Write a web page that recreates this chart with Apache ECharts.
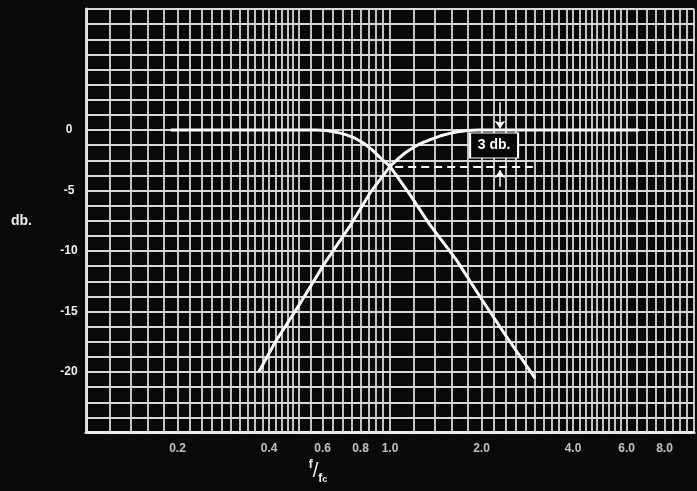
<!DOCTYPE html>
<html><head><meta charset="utf-8">
<script src="https://cdn.jsdelivr.net/npm/echarts@6/dist/echarts.min.js"></script>
<style>html,body{margin:0;padding:0;background:#080908;}#c{width:697px;height:491px;}</style>
</head><body><div id="c"></div>
<script>
// ---- data ----
const lowPassF  = [0.19, 0.30, 0.50, 0.57, 0.62, 0.67, 0.72, 0.77, 0.82, 0.87, 0.93, 1.00, 1.16, 1.35, 1.66, 1.98, 2.39, 3.0];
const lowPassDb = [0, 0, 0, 0, -0.05, -0.2, -0.4, -0.7, -1.1, -1.6, -2.3, -3.0, -5.3, -7.8, -10.8, -13.8, -16.9, -20.5];
const highPassF  = [0.37, 0.42, 0.51, 0.61, 0.74, 0.86, 1.00, 1.06, 1.12, 1.2, 1.28, 1.37, 1.46, 1.56, 1.67, 1.8, 1.95, 3.0, 6.6];
const highPassDb = [-20.0, -17.5, -14.2, -11.0, -7.9, -5.2, -3.0, -2.4, -1.9, -1.4, -1.05, -0.75, -0.5, -0.3, -0.15, -0.05, 0, 0, 0];
const xTickLabels = [0.2, 0.4, 0.6, 0.8, 1.0, 2.0, 4.0, 6.0, 8.0];
const yTickLabels = [0, -5, -10, -15, -20];
const crossoverDb = -3;
const annotationText = '3 db.';
// graph-paper rulings: [from, to, step]
const xRulings = [[0.1, 0.5, 0.02], [0.5, 1.0, 0.05], [1, 5, 0.2], [5, 6, 0.25], [6, 10, 0.5]];

const xGrid = [];
xRulings.forEach(([a, b, s]) => {
  const n = Math.round((b - a) / s);
  for (let i = 0; i <= n; i++) {
    const v = +(a + i * s).toFixed(4);
    if (!xGrid.includes(v)) xGrid.push(v);
  }
});

const FONT = 'Liberation Sans';
const W = '#ececec';

const chart = echarts.init(document.getElementById('c'));
chart.setOption({
  backgroundColor: '#080908',
  animation: false,
  grid: { left: 86, right: 3, top: 9, bottom: 58.5 },
  xAxis: {
    type: 'log', logBase: 10, min: 0.1, max: 10,
    axisLine: { show: true, onZero: false, lineStyle: { color: W, width: 3 } },
    axisTick: { show: false },
    axisLabel: { show: false },
    splitLine: { show: false },
    minorSplitLine: { show: false },
    name: '{n|f}{s|/}{d|f}{c|c}',
    nameLocation: 'middle',
    nameGap: 26,
    nameTextStyle: {
      padding: [0, 144, 0, 0],
      rich: {
        n: { color: W, fontFamily: FONT, fontWeight: 'bold', fontSize: 12, verticalAlign: 'top', lineHeight: 26 },
        s: { color: W, fontFamily: FONT, fontSize: 20, lineHeight: 26 },
        d: { color: W, fontFamily: FONT, fontWeight: 'bold', fontSize: 12, verticalAlign: 'bottom', lineHeight: 26 },
        c: { color: W, fontFamily: FONT, fontWeight: 'bold', fontSize: 9, verticalAlign: 'bottom', lineHeight: 22 }
      }
    }
  },
  yAxis: {
    type: 'value', min: -25, max: 10, interval: 1.25,
    axisLine: { show: true, onZero: false, lineStyle: { color: W, width: 3 } },
    axisTick: { show: false },
    axisLabel: {
      color: W, fontFamily: FONT, fontWeight: 'bold', fontSize: 12,
      align: 'center', margin: 17,
      formatter: v => yTickLabels.includes(v) ? String(v) : ''
    },
    splitLine: { show: true, lineStyle: { color: '#d8d8d8', width: 1.8 } },
    name: 'db.', nameLocation: 'middle', nameRotate: 0, nameGap: 54,
    nameTextStyle: { color: W, fontFamily: FONT, fontWeight: 'bold', fontSize: 14, padding: [48, 0, 0, 0] }
  },
  series: [
    { // graph-paper vertical rulings
      type: 'line', data: [], z: 1, silent: true,
      markLine: {
        silent: true, symbol: 'none', animation: false,
        label: { show: false },
        lineStyle: { color: '#d8d8d8', width: 1.8, type: 'solid' },
        data: xGrid.map(v => ({ xAxis: v }))
      }
    },
    {
      name: 'low pass', type: 'line', z: 5, showSymbol: false, symbol: 'none',
      smooth: false,
      lineStyle: { color: '#ffffff', width: 3, join: 'round' },
      data: lowPassF.map((f, i) => [f, lowPassDb[i]])
    },
    {
      name: 'high pass', type: 'line', z: 5, showSymbol: false, symbol: 'none',
      smooth: false,
      lineStyle: { color: '#ffffff', width: 3, join: 'round' },
      data: highPassF.map((f, i) => [f, highPassDb[i]])
    },
    { // dashed crossover level
      type: 'line', data: [], z: 6, silent: true,
      markLine: {
        silent: true, symbol: 'none', animation: false, label: { show: false },
        lineStyle: { color: '#ffffff', width: 2, type: [8, 5] },
        data: [[{ coord: [1.04, crossoverDb] }, { coord: [2.95, crossoverDb] }]]
      }
    },
    { // arrows
      type: 'line', data: [], z: 7, silent: true,
      markLine: {
        silent: true, symbol: ['none', 'arrow'], symbolSize: 8, animation: false, label: { show: false },
        lineStyle: { color: '#ffffff', width: 1.5, type: 'solid' },
        data: [
          [{ coord: [2.3, 2.3] }, { coord: [2.3, 0.1] }],
          [{ coord: [2.3, -4.7] }, { coord: [2.3, -3.3] }]
        ]
      }
    },
    { // label box
      type: 'scatter', data: [], z: 8, silent: true,
      markPoint: {
        silent: true, animation: false,
        symbol: 'rect', symbolSize: [48, 25],
        itemStyle: { color: '#050505', borderColor: '#ffffff', borderWidth: 1.5 },
        label: { show: true, position: 'inside', color: '#ffffff', fontFamily: FONT, fontWeight: 'bold', fontSize: 14, formatter: annotationText },
        data: [{ coord: [2.2, -1.28] }]
      }
    },
    { // x tick labels
      type: 'scatter', z: 9, silent: true, clip: false, symbolSize: 0,
      data: xTickLabels.map(v => [v, -25]),
      label: {
        show: true, position: 'bottom', distance: 10,
        color: W, fontFamily: FONT, fontWeight: 'bold', fontSize: 12,
        formatter: p => p.value[0].toFixed(1)
      }
    }
  ]
});
</script></body></html>
